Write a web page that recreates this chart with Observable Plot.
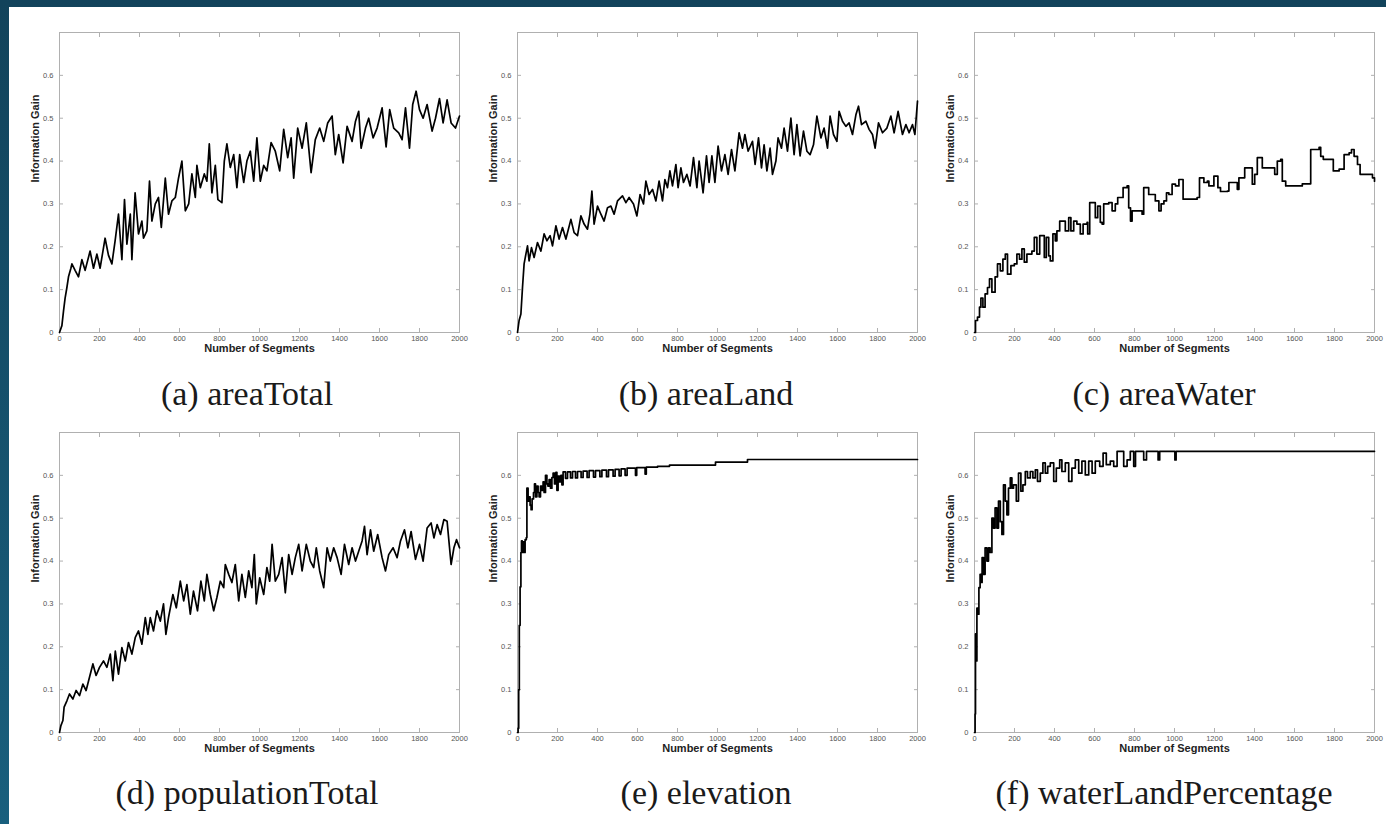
<!DOCTYPE html>
<html><head><meta charset="utf-8">
<script src="https://cdn.jsdelivr.net/npm/d3@7"></script>
<script src="https://cdn.jsdelivr.net/npm/@observablehq/plot@0.6"></script>
<style>
html,body{margin:0;padding:0;}
body{width:1386px;height:824px;overflow:hidden;position:relative;background:linear-gradient(#12435b,#195f7d);}
#sheet{position:absolute;left:9px;top:7px;right:0;bottom:0;background:#fff;}
.panel{position:absolute;}
.panel svg{max-width:none !important;}
.cap{position:absolute;width:420px;text-align:center;font-family:"Liberation Serif",serif;font-size:34px;line-height:34px;color:#1a1a1a;white-space:nowrap;}
</style></head><body><div id="sheet"></div>
<script>
// ---- data: [number of segments, information gain] ----
const areaTotal = [[0,0],[12,0.016],[20,0.05],[28,0.08],[37,0.105],[45,0.13],[57,0.15],[62,0.16],[78,0.145],[95,0.13],[112,0.17],[128,0.145],[153,0.19],[170,0.15],[187,0.183],[203,0.15],[228,0.22],[245,0.18],[262,0.16],[278,0.214],[295,0.276],[312,0.17],[325,0.31],[337,0.206],[354,0.276],[362,0.17],[378,0.326],[395,0.23],[412,0.26],[420,0.22],[437,0.237],[450,0.353],[462,0.26],[479,0.3],[495,0.315],[509,0.245],[529,0.36],[545,0.276],[562,0.307],[579,0.315],[595,0.36],[612,0.4],[629,0.284],[646,0.3],[662,0.37],[679,0.315],[687,0.39],[704,0.338],[724,0.37],[737,0.353],[749,0.44],[762,0.326],[779,0.39],[792,0.31],[812,0.303],[824,0.4],[837,0.44],[854,0.385],[871,0.415],[887,0.338],[901,0.415],[921,0.35],[937,0.4],[954,0.423],[971,0.353],[987,0.454],[1004,0.353],[1021,0.39],[1037,0.377],[1058,0.443],[1079,0.423],[1101,0.377],[1121,0.474],[1141,0.408],[1158,0.454],[1171,0.36],[1191,0.477],[1213,0.43],[1234,0.489],[1258,0.373],[1279,0.45],[1301,0.477],[1321,0.446],[1341,0.489],[1363,0.505],[1379,0.415],[1396,0.462],[1418,0.396],[1438,0.481],[1463,0.446],[1480,0.493],[1496,0.516],[1508,0.43],[1530,0.477],[1546,0.5],[1568,0.454],[1588,0.477],[1613,0.524],[1633,0.433],[1651,0.52],[1671,0.477],[1696,0.466],[1713,0.45],[1730,0.524],[1750,0.43],[1766,0.532],[1783,0.563],[1800,0.52],[1818,0.5],[1838,0.532],[1863,0.47],[1880,0.5],[1900,0.546],[1918,0.489],[1938,0.543],[1958,0.489],[1980,0.477],[2000,0.505]];

const areaLand = [[0,0],[8,0.028],[17,0.043],[25,0.105],[33,0.16],[42,0.183],[50,0.202],[58,0.167],[70,0.198],[83,0.175],[100,0.21],[117,0.19],[133,0.23],[147,0.214],[163,0.226],[175,0.202],[192,0.249],[208,0.218],[225,0.245],[242,0.218],[267,0.264],[283,0.233],[300,0.226],[317,0.272],[333,0.253],[350,0.241],[362,0.276],[372,0.33],[383,0.253],[400,0.295],[417,0.276],[433,0.26],[450,0.291],[467,0.295],[483,0.276],[500,0.307],[525,0.319],[542,0.303],[558,0.315],[580,0.3],[597,0.272],[613,0.322],[630,0.3],[642,0.353],[658,0.322],[675,0.334],[692,0.307],[708,0.353],[725,0.307],[737,0.357],[750,0.338],[762,0.377],[775,0.342],[792,0.392],[803,0.338],[817,0.384],[830,0.35],[847,0.369],[863,0.342],[880,0.408],[897,0.338],[908,0.4],[928,0.326],[945,0.412],[958,0.35],[972,0.412],[987,0.35],[1003,0.435],[1020,0.377],[1037,0.415],[1053,0.369],[1070,0.427],[1087,0.377],[1108,0.466],[1125,0.43],[1137,0.462],[1153,0.423],[1175,0.446],[1188,0.392],[1205,0.454],[1220,0.384],[1233,0.438],[1247,0.377],[1263,0.43],[1275,0.369],[1292,0.4],[1303,0.454],[1320,0.43],[1333,0.477],[1350,0.423],[1367,0.5],[1383,0.415],[1397,0.485],[1413,0.412],[1430,0.47],[1447,0.423],[1463,0.415],[1480,0.438],[1497,0.505],[1517,0.454],[1533,0.477],[1550,0.43],[1563,0.505],[1580,0.462],[1597,0.446],[1608,0.516],[1625,0.493],[1642,0.481],[1658,0.489],[1675,0.462],[1692,0.508],[1705,0.528],[1720,0.485],[1742,0.493],[1758,0.474],[1775,0.462],[1788,0.43],[1805,0.489],[1825,0.466],[1847,0.477],[1867,0.505],[1883,0.466],[1903,0.516],[1925,0.462],[1942,0.485],[1958,0.466],[1975,0.485],[1987,0.462],[2000,0.54]];

const areaWater = [[0,0],[5,0.028],[15,0.036],[25,0.059],[32,0.08],[42,0.059],[53,0.09],[65,0.105],[75,0.125],[87,0.094],[103,0.13],[115,0.16],[129,0.144],[142,0.171],[154,0.183],[165,0.136],[182,0.156],[199,0.16],[212,0.183],[225,0.171],[237,0.195],[249,0.164],[262,0.183],[287,0.19],[299,0.222],[312,0.183],[326,0.226],[342,0.226],[349,0.175],[359,0.222],[371,0.179],[379,0.167],[392,0.23],[404,0.214],[412,0.237],[426,0.26],[446,0.26],[454,0.237],[471,0.268],[482,0.237],[496,0.26],[512,0.253],[529,0.23],[543,0.253],[563,0.257],[566,0.23],[576,0.303],[596,0.303],[604,0.268],[616,0.295],[629,0.257],[638,0.253],[646,0.3],[671,0.303],[688,0.284],[704,0.3],[716,0.315],[743,0.338],[763,0.342],[771,0.291],[780,0.26],[788,0.284],[838,0.276],[846,0.338],[871,0.322],[904,0.307],[922,0.284],[933,0.3],[947,0.307],[960,0.326],[972,0.322],[988,0.346],[1005,0.342],[1022,0.357],[1043,0.311],[1113,0.315],[1125,0.361],[1147,0.35],[1164,0.353],[1172,0.342],[1197,0.365],[1217,0.338],[1230,0.329],[1264,0.33],[1272,0.35],[1305,0.35],[1314,0.334],[1322,0.361],[1339,0.361],[1351,0.384],[1381,0.384],[1389,0.346],[1401,0.369],[1414,0.408],[1431,0.408],[1439,0.384],[1489,0.384],[1501,0.369],[1514,0.4],[1531,0.404],[1539,0.353],[1556,0.342],[1631,0.342],[1639,0.347],[1673,0.347],[1681,0.427],[1723,0.432],[1731,0.411],[1744,0.404],[1789,0.404],[1794,0.377],[1823,0.381],[1848,0.415],[1873,0.419],[1885,0.427],[1898,0.411],[1915,0.392],[1928,0.369],[1982,0.369],[1990,0.361],[2000,0.353]];

const populationTotal = [[0,0],[7,0.016],[17,0.028],[23,0.059],[37,0.074],[50,0.09],[67,0.078],[83,0.098],[100,0.086],[117,0.113],[133,0.098],[150,0.129],[167,0.16],[183,0.133],[200,0.152],[220,0.167],[237,0.152],[254,0.183],[267,0.121],[279,0.19],[295,0.136],[312,0.198],[329,0.167],[345,0.21],[362,0.183],[379,0.222],[395,0.237],[412,0.206],[429,0.268],[442,0.229],[454,0.268],[470,0.237],[487,0.284],[504,0.26],[520,0.3],[532,0.229],[545,0.268],[567,0.322],[584,0.291],[604,0.353],[621,0.307],[637,0.345],[654,0.276],[670,0.33],[690,0.284],[707,0.353],[724,0.307],[737,0.369],[754,0.322],[771,0.284],[787,0.315],[804,0.353],[821,0.338],[829,0.392],[846,0.369],[862,0.35],[879,0.392],[896,0.307],[912,0.369],[929,0.315],[946,0.377],[962,0.338],[974,0.415],[984,0.3],[1001,0.361],[1021,0.322],[1037,0.385],[1051,0.353],[1063,0.439],[1079,0.353],[1096,0.369],[1113,0.408],[1129,0.326],[1146,0.415],[1163,0.369],[1179,0.408],[1196,0.439],[1213,0.377],[1234,0.439],[1254,0.4],[1271,0.385],[1284,0.431],[1301,0.377],[1321,0.338],[1338,0.431],[1354,0.4],[1371,0.431],[1388,0.408],[1408,0.369],[1425,0.439],[1446,0.392],[1463,0.431],[1480,0.4],[1496,0.423],[1513,0.447],[1525,0.481],[1538,0.415],[1555,0.473],[1571,0.423],[1591,0.462],[1613,0.408],[1630,0.377],[1646,0.415],[1668,0.431],[1688,0.408],[1705,0.447],[1725,0.473],[1742,0.431],[1758,0.469],[1780,0.404],[1800,0.439],[1818,0.4],[1838,0.477],[1858,0.489],[1872,0.454],[1888,0.485],[1905,0.462],[1922,0.497],[1938,0.493],[1947,0.447],[1958,0.392],[1972,0.431],[1985,0.45],[2000,0.431]];

const elevation = [[0,0],[3,0.01],[6,0.1],[9,0.25],[13,0.34],[17,0.42],[20,0.447],[24,0.42],[28,0.445],[33,0.42],[38,0.45],[44,0.455],[47,0.57],[53,0.54],[58,0.55],[63,0.53],[68,0.52],[73,0.545],[80,0.56],[85,0.58],[90,0.55],[97,0.575],[103,0.56],[108,0.55],[115,0.575],[122,0.565],[128,0.585],[133,0.56],[140,0.6],[147,0.58],[152,0.575],[158,0.59],[165,0.57],[172,0.595],[178,0.605],[185,0.58],[192,0.607],[197,0.565],[203,0.598],[210,0.585],[217,0.6],[222,0.578],[228,0.608],[240,0.593],[250,0.608],[265,0.594],[275,0.609],[290,0.594],[300,0.609],[318,0.595],[328,0.61],[348,0.595],[358,0.611],[380,0.596],[390,0.611],[412,0.597],[422,0.612],[445,0.597],[455,0.613],[478,0.598],[488,0.614],[508,0.599],[518,0.615],[538,0.6],[548,0.617],[590,0.6],[596,0.618],[638,0.603],[644,0.619],[700,0.621],[760,0.624],[990,0.631],[1150,0.637],[2000,0.637]];

const waterLandPercentage = [[0,0],[3,0.043],[5,0.23],[8,0.167],[12,0.29],[17,0.276],[22,0.338],[28,0.369],[33,0.35],[38,0.408],[45,0.369],[53,0.431],[62,0.4],[70,0.431],[78,0.42],[87,0.5],[95,0.477],[103,0.524],[112,0.477],[120,0.54],[129,0.492],[137,0.462],[145,0.578],[154,0.54],[162,0.508],[170,0.57],[179,0.594],[187,0.57],[195,0.578],[209,0.54],[220,0.605],[232,0.563],[242,0.578],[254,0.609],[265,0.594],[279,0.609],[292,0.594],[304,0.613],[315,0.586],[329,0.605],[342,0.629],[354,0.605],[366,0.621],[379,0.629],[396,0.586],[409,0.617],[426,0.636],[437,0.609],[454,0.629],[471,0.586],[487,0.617],[504,0.636],[521,0.605],[537,0.633],[554,0.601],[571,0.633],[588,0.605],[604,0.633],[626,0.621],[643,0.652],[659,0.625],[679,0.633],[696,0.621],[713,0.656],[738,0.656],[746,0.621],[763,0.636],[779,0.656],[796,0.621],[805,0.656],[846,0.636],[860,0.656],[918,0.636],[926,0.656],[1002,0.636],[1008,0.656],[2000,0.656]];

const xTicks = [0,200,400,600,800,1000,1200,1400,1600,1800,2000];
const yTicks = [0,0.1,0.2,0.3,0.4,0.5,0.6];
const captions = ["(a) areaTotal","(b) areaLand","(c) areaWater","(d) populationTotal","(e) elevation","(f) waterLandPercentage"];
const seriesList = [areaTotal, areaLand, areaWater, populationTotal, elevation, waterLandPercentage];
const curves = ["linear","linear","step-after","linear","step-after","step-after"];

// ---- layout ----
const frameLeft = [59, 517, 974];
const frameTop = [32, 432];
const capCenter = [247, 706, 1164];
const capTop = [377, 776];
const M = {l:50, r:10, t:5, b:30};
const boxColor = "#b0b0b0";

function chart(data, curve) {
  return Plot.plot({
    width: 400 + M.l + M.r, height: 300 + M.t + M.b,
    marginLeft: M.l, marginRight: M.r, marginTop: M.t, marginBottom: M.b,
    x: {domain: [0, 2000]},
    y: {domain: [0, 0.7]},
    style: {fontFamily: "'Liberation Sans', Arial, sans-serif", background: "transparent", overflow: "visible", maxWidth: "none"},
    marks: [
      Plot.frame({stroke: boxColor}),
      Plot.axisX({anchor: "bottom", ticks: xTicks, tickSize: 4, dy: -4, fill: "none", stroke: boxColor}),
      Plot.axisX({anchor: "top", ticks: xTicks, tickSize: 4, dy: 4, fill: "none", stroke: boxColor}),
      Plot.axisY({anchor: "left", ticks: yTicks, tickSize: 4, dx: 4, fill: "none", stroke: boxColor}),
      Plot.axisY({anchor: "right", ticks: yTicks, tickSize: 4, dx: -4, fill: "none", stroke: boxColor}),
      Plot.axisX({anchor: "bottom", ticks: xTicks, tickSize: 0, tickPadding: 3, tickFormat: d => String(d), fontSize: 7.5, fill: "#555", label: null}),
      Plot.axisY({anchor: "left", ticks: yTicks, tickSize: 0, tickPadding: 6, tickFormat: d => d === 0 ? "0" : d.toFixed(1), fontSize: 7.5, fill: "#555", label: null}),
      Plot.text(["Number of Segments"], {frameAnchor: "bottom", dy: 19, fontWeight: "bold", fontSize: 11, fill: "#222"}),
      Plot.text(["Information Gain"], {frameAnchor: "left", dx: -24, rotate: -90, fontWeight: "bold", fontSize: 11, fill: "#222"}),
      Plot.line(data, {x: d => d[0], y: d => d[1], curve, stroke: "#000", strokeWidth: 1.7, strokeLinejoin: "round"})
    ]
  });
}

seriesList.forEach((s, i) => {
  const col = i % 3, row = Math.floor(i / 3);
  const el = chart(s, curves[i]);
  const wrap = document.createElement("div");
  wrap.className = "panel";
  wrap.style.left = (frameLeft[col] - M.l) + "px";
  wrap.style.top = (frameTop[row] - M.t) + "px";
  wrap.style.width = (400 + M.l + M.r) + "px";
  wrap.appendChild(el);
  document.body.appendChild(wrap);
  const cap = document.createElement("div");
  cap.className = "cap";
  cap.textContent = captions[i];
  cap.style.left = (capCenter[col] - 210) + "px";
  cap.style.top = capTop[row] + "px";
  document.body.appendChild(cap);
});
</script></body></html>
